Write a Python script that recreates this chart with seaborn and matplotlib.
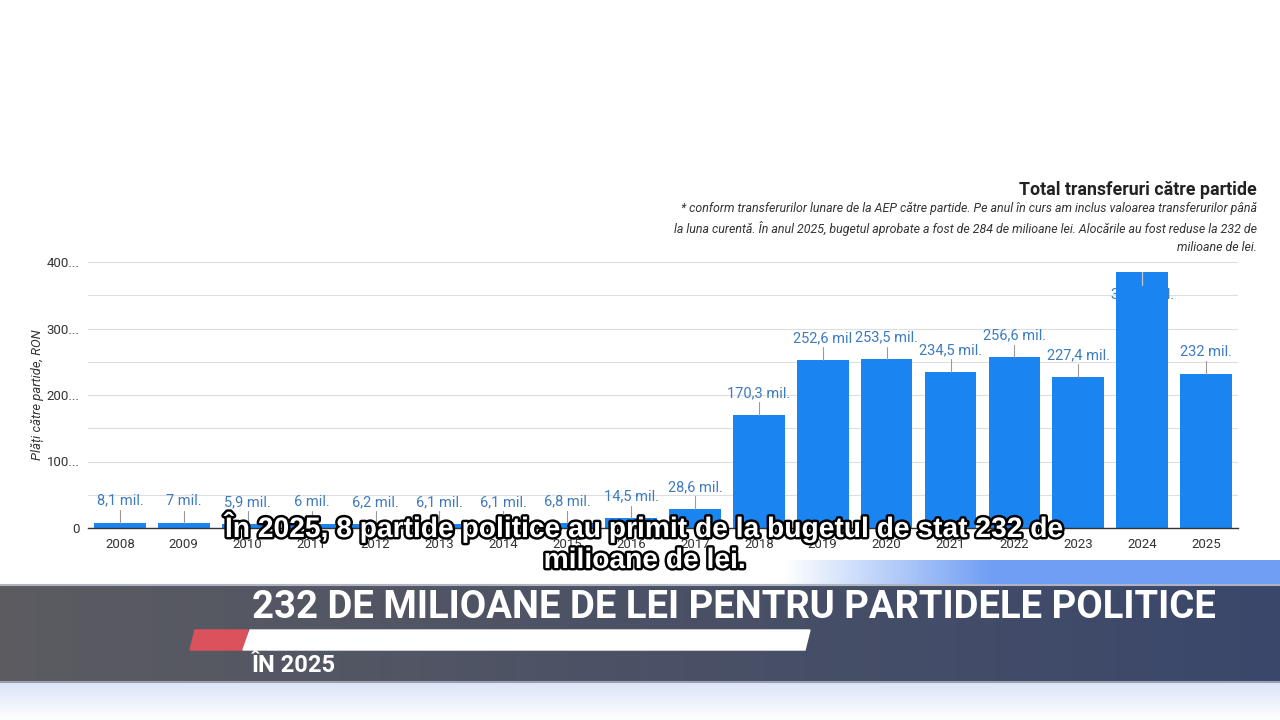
import numpy as np
import pandas as pd
import matplotlib
matplotlib.use("Agg")
import matplotlib.pyplot as plt
import matplotlib.patheffects as pe
from matplotlib.patches import Polygon
import seaborn as sns

# data
years = ["2008", "2009", "2010", "2011", "2012", "2013", "2014", "2015", "2016",
         "2017", "2018", "2019", "2020", "2021", "2022", "2023", "2024", "2025"]
values = [8.1, 7.0, 5.9, 6.0, 6.2, 6.1, 6.1, 6.8, 14.5,
          28.6, 170.3, 252.6, 253.5, 234.5, 256.6, 227.4, 384.6, 232.0]
labels = ["8,1 mil.", "7 mil.", "5,9 mil.", "6 mil.", "6,2 mil.", "6,1 mil.", "6,1 mil.",
          "6,8 mil.", "14,5 mil.", "28,6 mil.", "170,3 mil.", "252,6 mil", "253,5 mil.",
          "234,5 mil.", "256,6 mil.", "227,4 mil.", "384,6 mil.", "232 mil."]
yticks = [0, 100, 200, 300, 400]
ytick_labels = ["0", "100...", "200...", "300...", "400..."]

title = "Total transferuri către partide"
note = ("* conform transferurilor lunare de la AEP către partide. Pe anul în curs am inclus valoarea transferurilor până\n"
        "la luna curentă. În anul 2025, bugetul aprobate a fost de 284 de milioane lei. Alocările au fost reduse la 232 de\n"
        "milioane de lei.")
ylabel = "Plăți către partide, RON"
subtitle = "În 2025, 8 partide politice au primit de la bugetul de stat 232 de\nmilioane de lei."
headline = "232 DE MILIOANE DE LEI PENTRU PARTIDELE POLITICE"
subhead = "ÎN 2025"

sns.set_style("white")
plt.rcParams['font.family'] = ['Roboto', 'DejaVu Sans']

df = pd.DataFrame({"an": years, "valoare": values})

fig = plt.figure(figsize=(12.8, 7.2), dpi=100)
fig.patch.set_facecolor("white")

# main chart axes
ax = fig.add_axes([88 / 1280, 1 - 528 / 720, 1150 / 1280, 266 / 720])
sns.barplot(data=df, x="an", y="valoare", color="#1a84f0", width=0.81,
            saturation=1, linewidth=0, ax=ax, zorder=3)
ax.set_xlim(-0.5, len(years) - 0.5)
ax.set_ylim(0, 400)
ax.set_yticks(yticks)
ax.set_yticks(np.arange(50, 400, 100), minor=True)
ax.set_yticklabels(ytick_labels)
ax.grid(axis="y", which="both", color="#dedede", lw=0.8, zorder=0)
ax.set_axisbelow(True)
ax.tick_params(axis="both", which="both", length=0, labelsize=9.5, labelcolor="#333333")
ax.tick_params(axis="y", pad=6)
ax.tick_params(axis="x", pad=7)
for s in ["top", "right", "left"]:
    ax.spines[s].set_visible(False)
ax.spines["bottom"].set_color("#333333")
ax.spines["bottom"].set_linewidth(1.0)
ax.spines["bottom"].set_zorder(4)
ax.set_xlabel("")
ax.set_ylabel(ylabel, fontsize=9.4, style="italic", color="#333333", labelpad=2)

# value labels with small leader lines
off = 33  # about 22 px in data units
for i, (v, lab) in enumerate(zip(values, labels)):
    if v + off + 10 > 400:
        ly = v - off
        ax.text(i, ly, lab, ha="center", va="center", fontsize=10.5,
                color="#3d7bbf", zorder=2)
        ax.plot([i, i], [v, v - 19], color="#c8c8c8", lw=0.9, zorder=5)
    else:
        ly = v + off
        ax.text(i, ly, lab, ha="center", va="center", fontsize=10.5,
                color="#3d7bbf", zorder=5)
        ax.plot([i, i], [v, v + 19], color="#9a9a9a", lw=0.8, zorder=5)

# title and note
fig.text(1257 / 1280, 1 - 190 / 720, title, ha="right", va="center",
         fontsize=12.8, fontweight="bold", color="#222222")
fig.text(1257 / 1280, 1 - 202 / 720, note, ha="right", va="top",
         multialignment="right", fontsize=8.9, style="italic", color="#333333",
         linespacing=1.5)

# broadcast overlay
ov = fig.add_axes([0, 0, 1, 1], zorder=10)
ov.set_xlim(0, 1280)
ov.set_ylim(720, 0)
ov.axis("off")
ov.patch.set_alpha(0)

# light blue strip above banner
g = np.linspace(0, 1, 256)
img = np.ones((1, 256, 4))
img[0, :, :3] = np.array([0.44, 0.62, 0.96])
img[0, :, 3] = np.clip((g - 0.08) * 2.6, 0, 1)
ov.imshow(img, extent=[740, 1280, 585, 560], aspect="auto", zorder=1)

# banner gradient gray -> navy
left = np.array([0.36, 0.36, 0.38])
right = np.array([0.23, 0.28, 0.42])
band = left[None, None, :] * (1 - g[None, :, None]) + right[None, None, :] * g[None, :, None]
ov.imshow(band, extent=[0, 1280, 682, 585], aspect="auto", zorder=2)
ov.plot([0, 1280], [585, 585], color="#b0b4c0", lw=1.5, zorder=3)
ov.plot([0, 1280], [682, 682], color="#9aa0b0", lw=1.5, zorder=3)

# glow below banner
glow = np.ones((64, 1, 4))
glow[:, 0, :3] = np.array([0.85, 0.89, 0.97])
glow[:, 0, 3] = np.linspace(0.9, 0.0, 64)
ov.imshow(glow, extent=[0, 1280, 720, 683], aspect="auto", zorder=2)

# red and white bars
ov.add_patch(Polygon([[195, 630], [248, 630], [243, 650], [190, 650]],
                     closed=True, color="#d9525c", zorder=4))
ov.add_patch(Polygon([[250, 630], [810, 630], [805, 650], [243, 650]],
                     closed=True, color="white", zorder=4))

ov.text(252, 608, headline, ha="left", va="center", fontsize=27.5,
        fontweight="bold", color="white", zorder=5)
ov.text(252, 666, subhead, ha="left", va="center", fontsize=17,
        fontweight="bold", color="white", zorder=5)

# subtitle
ov.text(645, 543, subtitle, ha="center", va="center", fontsize=20.3,
        fontweight="bold", color="white", linespacing=1.25, zorder=6,
        family=["Liberation Sans", "DejaVu Sans"],
        path_effects=[pe.withStroke(linewidth=3.5, foreground="black")])

fig.savefig("out.png", dpi=100, facecolor="white")
